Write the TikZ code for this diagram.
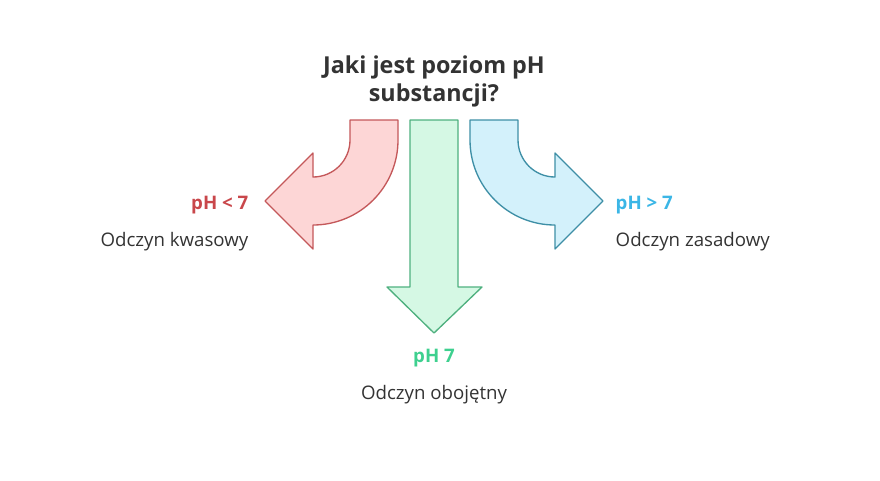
\documentclass[tikz,border=0pt]{standalone}
\usepackage{fontspec}
\setmainfont{Open Sans}
\usetikzlibrary{positioning}
\definecolor{acidline}{HTML}{C4585A}
\definecolor{acidfill}{HTML}{FDD6D6}
\definecolor{acidtext}{HTML}{C9474B}
\definecolor{baseline}{HTML}{3E8FA6}
\definecolor{basefill}{HTML}{D3F1FB}
\definecolor{basetext}{HTML}{3BB6E6}
\definecolor{neutline}{HTML}{4FB07F}
\definecolor{neutfill}{HTML}{D5F8E4}
\definecolor{neuttext}{HTML}{3ED08F}
\tikzset{
	arrowshape/.style={line width=1pt,line join=round},
	title/.style={font=\fontsize{17.5}{21}\selectfont\bfseries,text=black!80,align=center},
	ph/.style={font=\fontsize{14}{16}\selectfont\bfseries},
	desc/.style={font=\fontsize{14}{16}\selectfont,text=black!80}
}
\begin{document}
\begin{tikzpicture}[x=0.75pt,y=-0.75pt]
		\useasboundingbox (0,0) rectangle (880,480);
		% arrows
		\draw[arrowshape,draw=acidline,fill=acidfill]
		(350,120) -- (350,140) arc[start angle=0,end angle=90,radius=37]
		-- (313,153) -- (265,201) -- (313,249) -- (313,225)
		arc[start angle=90,end angle=0,radius=85] -- (398,120) -- cycle;
		\draw[arrowshape,draw=baseline,fill=basefill]
		(518,120) -- (518,140) arc[start angle=180,end angle=90,radius=37]
		-- (555,153) -- (603,201) -- (555,249) -- (555,225)
		arc[start angle=90,end angle=180,radius=85] -- (470,120) -- cycle;
		\draw[arrowshape,draw=neutline,fill=neutfill]
		(410,120) -- (410,287) -- (387,287) -- (434,333) -- (482,287)
		-- (458,287) -- (458,120) -- cycle;
		% texts
		\node[title] (question) at (434,81) {Jaki jest poziom pH\\substancji?};
		\node[ph,text=acidtext,anchor=east] (acidph) at (253,205) {pH < 7};
		\node[desc,anchor=east] (acid) at (253,242) {Odczyn kwasowy};
		\node[ph,text=basetext,anchor=west] (baseph) at (611,205) {pH > 7};
		\node[desc,anchor=west] (base) at (611,242) {Odczyn zasadowy};
		\node[ph,text=neuttext] (neutph) at (434,358) {pH 7};
		\node[desc] (neut) at (434,395) {Odczyn obojętny};
\end{tikzpicture}
\end{document}
